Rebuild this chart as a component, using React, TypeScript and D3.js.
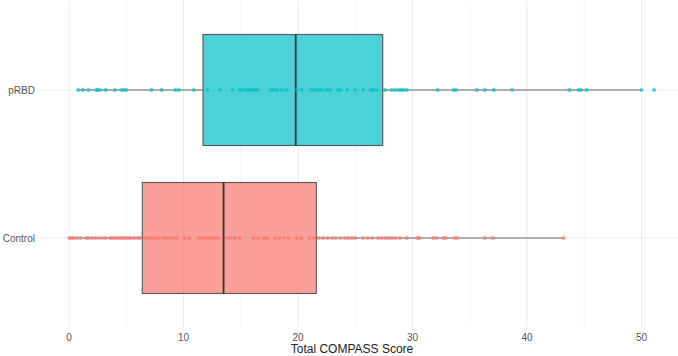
import { useEffect } from 'react'
import * as d3 from 'd3'

// Groups, bottom to top
const GROUPS = ['Control', 'pRBD']
const GROUP_COLORS = ['#F8766D', '#00BFC4']

// Box statistics per group: [whisker low, Q1, median, Q3, whisker high]
const CONTROL_STATS = [0, 6.4, 13.5, 21.6, 43.2]
const PRBD_STATS = [0.8, 11.7, 19.8, 27.4, 50.0]

// Individual scores
const CONTROL_SCORES = [
  0.0, 0.2, 0.4, 0.7, 1.0, 1.5, 1.7, 2.0, 2.3, 2.6, 2.9, 3.2, 3.6, 3.8, 4.0, 4.2, 4.4, 4.6, 4.8,
  5.0, 5.2, 5.4, 5.7, 6.0, 6.2, 6.6, 6.9, 7.2, 7.5, 7.8, 8.2, 8.5, 8.8, 9.1, 9.4, 10.1, 10.5,
  11.3, 11.6, 11.9, 12.2, 12.5, 12.8, 13.1, 13.8, 14.1, 14.5, 14.9, 16.1, 16.5, 17.0, 17.3,
  18.0, 18.4, 18.8, 19.2, 19.9, 20.3, 21.0, 21.4, 21.8, 22.2, 22.6, 23.0, 23.3, 23.7, 24.1,
  24.4, 24.7, 25.0, 25.7, 26.1, 26.5, 27.0, 27.3, 27.6, 27.9, 28.2, 28.5, 28.9, 29.5, 30.4,
  30.6, 31.8, 32.1, 32.7, 32.9, 33.7, 33.9, 36.3, 37.0, 43.2,
]
const PRBD_SCORES = [
  0.8, 1.2, 1.7, 2.4, 2.5, 2.7, 3.2, 4.0, 4.6, 4.8, 5.0, 7.2, 8.1, 9.3, 9.6, 10.9, 12.1, 13.2,
  14.3, 14.9, 15.2, 15.5, 15.7, 15.9, 16.1, 16.3, 16.5, 17.6, 17.9, 18.2, 18.6, 19.0, 19.9,
  20.3, 21.2, 21.5, 21.8, 22.1, 22.5, 22.8, 23.5, 23.7, 24.3, 25.0, 25.7, 26.4, 26.6, 26.9,
  27.6, 28.2, 28.5, 28.8, 29.0, 29.2, 29.5, 32.2, 33.6, 33.8, 35.6, 36.3, 37.1, 38.7, 43.7,
  44.5, 44.7, 45.2, 50.0, 51.1,
]

const X_TICKS = [0, 10, 20, 30, 40, 50]
const X_MINOR = [5, 15, 25, 35, 45]
const X_TITLE = 'Total COMPASS Score'

const W = 678
const H = 356

export default function App() {
  useEffect(() => {
    document.body.style.margin = '0'
  }, [])

  const panel = { left: 40, right: 678, top: 1, bottom: 327 }
  const font = '"Liberation Sans", Arial, sans-serif'

  const x = d3.scaleLinear().domain([0, 50]).range([69, 641.5])
  const y = d3.scalePoint<string>().domain(GROUPS).range([238, 90])
  const band = 148 * 0.375

  const stats = [CONTROL_STATS, PRBD_STATS]
  const scores = [CONTROL_SCORES, PRBD_SCORES]

  return (
    <svg width={W} height={H} style={{ display: 'block', background: '#fff' }}>
      {/* grid */}
      {X_MINOR.map(v => (
        <line key={'mn' + v} x1={x(v)} x2={x(v)} y1={panel.top} y2={panel.bottom}
          stroke="#f2f2f2" strokeWidth={0.6} />
      ))}
      {X_TICKS.map(v => (
        <line key={'mj' + v} x1={x(v)} x2={x(v)} y1={panel.top} y2={panel.bottom}
          stroke="#ebebeb" strokeWidth={1} />
      ))}
      {GROUPS.map(g => (
        <line key={'hg' + g} x1={panel.left} x2={panel.right} y1={y(g)} y2={y(g)}
          stroke="#ebebeb" strokeWidth={1} />
      ))}

      {/* boxes */}
      {GROUPS.map((g, i) => {
        const [lo, q1, med, q3, hi] = stats[i]
        const cy = y(g)!
        return (
          <g key={'box' + g}>
            <line x1={x(lo)} x2={x(q1)} y1={cy} y2={cy} stroke="#666" strokeWidth={1.1} />
            <line x1={x(q3)} x2={x(hi)} y1={cy} y2={cy} stroke="#666" strokeWidth={1.1} />
            <rect x={x(q1)} y={cy - band} width={x(q3) - x(q1)} height={band * 2}
              fill={GROUP_COLORS[i]} fillOpacity={0.7} stroke="#555" strokeWidth={1.1} />
            <line x1={x(med)} x2={x(med)} y1={cy - band} y2={cy + band}
              stroke="#333" strokeWidth={1.8} />
          </g>
        )
      })}

      {/* individual points */}
      {GROUPS.map((g, i) => (
        <g key={'pts' + g}>
          {scores[i].map((v, j) => (
            <circle key={j} cx={x(v)} cy={y(g)} r={2.1} fill={GROUP_COLORS[i]} fillOpacity={0.65} />
          ))}
        </g>
      ))}

      {/* y labels */}
      {GROUPS.map(g => (
        <text key={'yl' + g} x={35} y={y(g)} dy="0.35em" textAnchor="end"
          fontFamily={font} fontSize={10} fill="#555">{g}</text>
      ))}

      {/* x labels */}
      {X_TICKS.map(v => (
        <text key={'xl' + v} x={x(v)} y={337} dy="0.35em" textAnchor="middle"
          fontFamily={font} fontSize={10} fill="#555">{v}</text>
      ))}
      <text x={352} y={352.5} textAnchor="middle" fontFamily={font} fontSize={12} fill="#222">{X_TITLE}</text>
    </svg>
  )
}
